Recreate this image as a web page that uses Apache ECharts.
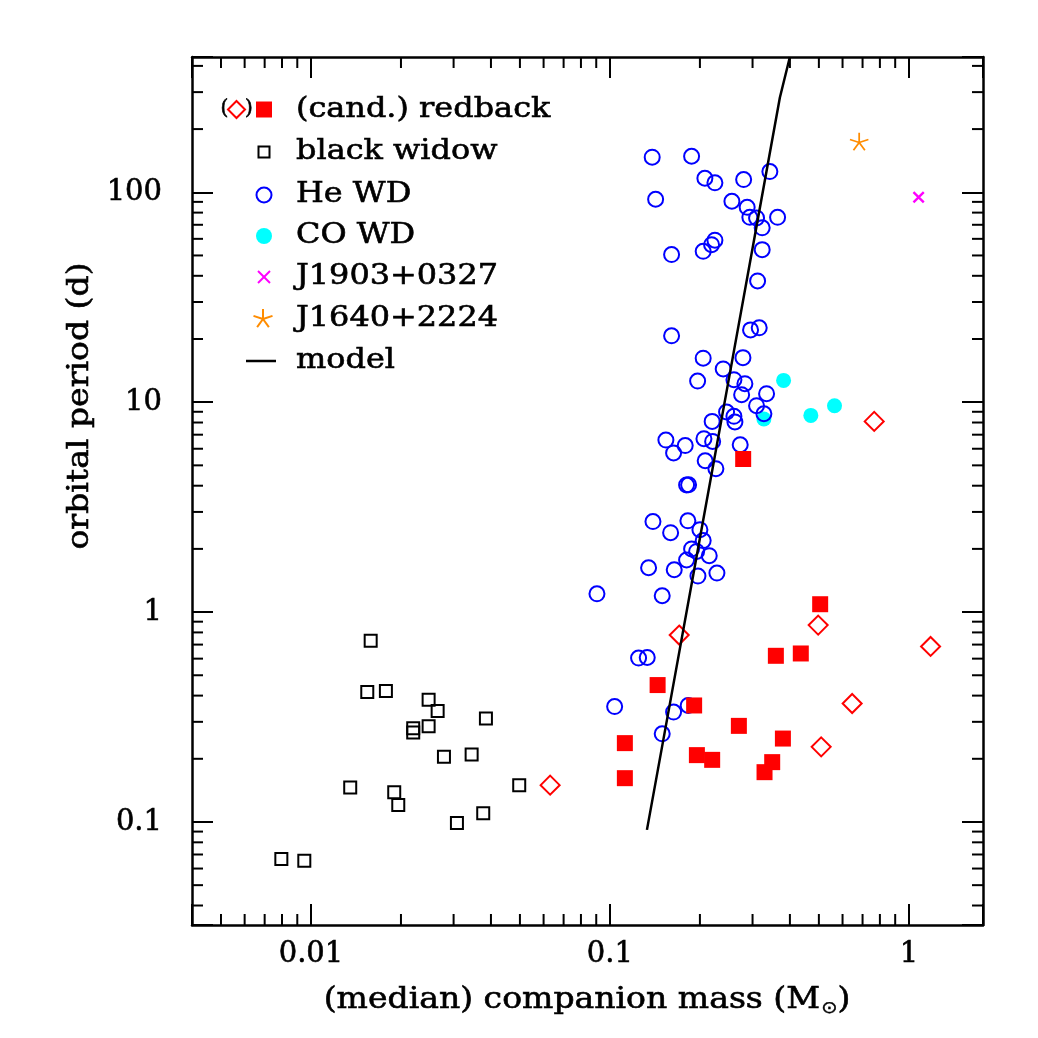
<!DOCTYPE html>
<html>
<head>
<meta charset="utf-8">
<script src="https://cdn.jsdelivr.net/npm/echarts@6/dist/echarts.min.js"></script>
<style>
html, body { margin: 0; padding: 0; background: #fff; }
#chart { width: 1038px; height: 1038px; }
</style>
</head>
<body>
<div id="chart"></div>
<script>
// axis ranges (log)
const X_MIN = 0.004, X_MAX = 1.77;
const Y_MIN = 0.0323, Y_MAX = 441;

const xTickValues = [0.01, 0.1, 1];
const xTickLabels = ['0.01', '0.1', '1'];
const yTickValues = [0.1, 1, 10, 100];
const yTickLabels = ['0.1', '1', '10', '100'];
const xMinorTicks = [0.005, 0.006, 0.007, 0.008, 0.009, 0.02, 0.03, 0.04, 0.05, 0.06, 0.07, 0.08, 0.09,
    0.2, 0.3, 0.4, 0.5, 0.6, 0.7, 0.8, 0.9];
const yMinorTicks = [0.04, 0.05, 0.06, 0.07, 0.08, 0.09, 0.2, 0.3, 0.4, 0.5, 0.6, 0.7, 0.8, 0.9,
    2, 3, 4, 5, 6, 7, 8, 9, 20, 30, 40, 50, 60, 70, 80, 90, 200, 300, 400];

// [companion mass, orbital period]
const heWd = [
    [0.1385, 146.9], [0.1876, 148.5], [0.2078, 116.6], [0.2245, 110.9], [0.2801, 115.0], [0.3428, 125.5],
    [0.1422, 92.6], [0.2559, 90.6], [0.2878, 84.8], [0.2938, 76.0], [0.3094, 75.5], [0.3638, 76.0],
    [0.3231, 67.7], [0.2245, 59.1], [0.2188, 56.3], [0.2051, 52.3], [0.1608, 50.5], [0.3231, 53.3],
    [0.3119, 37.8], [0.1608, 20.7], [0.2954, 22.1], [0.3158, 22.6], [0.2051, 16.2], [0.2786, 16.3],
    [0.2393, 14.4], [0.1965, 12.6], [0.2599, 12.8], [0.2828, 12.25], [0.2758, 10.86], [0.3342, 10.98],
    [0.3094, 9.62], [0.3274, 8.81], [0.2456, 8.98], [0.2599, 8.56], [0.2619, 8.05], [0.2198, 8.10],
    [0.1539, 6.60], [0.1786, 6.21], [0.1633, 5.73], [0.2063, 6.70], [0.2206, 6.50], [0.2728, 6.27],
    [0.2083, 5.26], [0.2262, 4.82], [0.1833, 4.04], [0.1805, 4.03], [0.1393, 2.70], [0.1596, 2.39],
    [0.1823, 2.72], [0.2000, 2.47], [0.2051, 2.19], [0.1876, 2.00], [0.1950, 1.945], [0.2149, 1.856],
    [0.1805, 1.77], [0.1347, 1.626], [0.1641, 1.591], [0.1970, 1.485], [0.2280, 1.534], [0.0905, 1.222],
    [0.1496, 1.196], [0.1247, 0.6036], [0.1333, 0.6076], [0.1037, 0.3548], [0.1633, 0.3338],
    [0.1827, 0.3588], [0.1496, 0.2630]
];
const coWd = [[0.381, 12.7], [0.3274, 8.32], [0.470, 8.65], [0.564, 9.62]];
const redback = [
    [0.2791, 5.36], [0.505, 1.09], [0.359, 0.619], [0.435, 0.635], [0.1444, 0.449], [0.1913, 0.359],
    [0.2700, 0.287], [0.1122, 0.2375], [0.379, 0.2497], [0.1954, 0.2082], [0.2198, 0.1977],
    [0.349, 0.1928], [0.329, 0.1727], [0.1122, 0.1617]
];
const candRedback = [
    [0.7657, 8.10], [0.4973, 0.867], [0.1705, 0.777], [1.182, 0.686], [0.6461, 0.3667],
    [0.5089, 0.228], [0.0631, 0.1498]
];
const blackWidow = [
    [0.01584, 0.7298], [0.01543, 0.4156], [0.01781, 0.4202], [0.02475, 0.3820], [0.02653, 0.3374],
    [0.03848, 0.3111], [0.02198, 0.2799], [0.02198, 0.2668], [0.02475, 0.2861], [0.02785, 0.2044],
    [0.03447, 0.2096], [0.01353, 0.1459], [0.01899, 0.1387], [0.01959, 0.1206], [0.03769, 0.1101],
    [0.03078, 0.0990], [0.04973, 0.1498], [0.00796, 0.0667], [0.00950, 0.0653]
];
const j1903 = [[1.078, 94.7]];
const j1640 = [[0.682, 173.9]];
const modelMass = [0.133, 0.1588, 0.2000, 0.2520, 0.3054, 0.3703, 0.3999];
const modelPeriod = [0.0917, 0.3674, 2.247, 13.75, 62.2, 282.8, 441];

const FONT = '"DejaVu Serif", "Liberation Serif", serif';
const WIDEN = 1.14;   // reference font is wider than DejaVu Serif

const crossPath = 'path://M0,1.4L1.4,0L10,8.6L8.6,10ZM8.6,0L10,1.4L1.4,10L0,8.6Z';
function starPath() {
    let s = 'path://';
    for (let k = 0; k < 5; k++) {
        const a = (90 + 72 * k) * Math.PI / 180;
        const dx = Math.cos(a), dy = -Math.sin(a);
        const nx = -dy, ny = dx, w = 0.9, L = 10;
        const p = [
            [10 + nx * w, 10 + ny * w], [10 + nx * w + dx * L, 10 + ny * w + dy * L],
            [10 - nx * w + dx * L, 10 - ny * w + dy * L], [10 - nx * w, 10 - ny * w]
        ];
        s += 'M' + p.map(q => q[0].toFixed(2) + ',' + q[1].toFixed(2)).join('L') + 'Z';
    }
    return s;
}

function labelFor(values, labels) {
    return function (v) {
        const i = values.findIndex(t => Math.abs(Math.log10(v) - Math.log10(t)) < 1e-6);
        return i >= 0 ? labels[i] : '';
    };
}

const axisLine = { show: true, onZero: false, lineStyle: { color: '#000', width: 2.5 } };
const axisTick = { show: true, inside: true, length: 21, lineStyle: { color: '#000', width: 2 } };

function minorTickSeries(vals, isX) {
    return {
        type: 'custom',
        silent: true,
        z: 5,
        data: vals.map(v => isX ? [v, Y_MIN] : [X_MIN, v]),
        renderItem: function (params, api) {
            const style = { stroke: '#000', lineWidth: 2 };
            if (isX) {
                const v = api.value(0);
                const b = api.coord([v, Y_MIN]), t = api.coord([v, Y_MAX]);
                return { type: 'group', children: [
                    { type: 'line', shape: { x1: b[0], y1: b[1], x2: b[0], y2: b[1] - 11 }, style: style },
                    { type: 'line', shape: { x1: t[0], y1: t[1], x2: t[0], y2: t[1] + 11 }, style: style }
                ] };
            }
            const v = api.value(1);
            const l = api.coord([X_MIN, v]), r = api.coord([X_MAX, v]);
            return { type: 'group', children: [
                { type: 'line', shape: { x1: l[0], y1: l[1], x2: l[0] + 11, y2: l[1] }, style: style },
                { type: 'line', shape: { x1: r[0], y1: r[1], x2: r[0] - 11, y2: r[1] }, style: style }
            ] };
        }
    };
}

function textEl(x, y, text, size, align, extra) {
    return Object.assign({
        type: 'text', x: x, y: y, scaleX: WIDEN,
        style: { text: text, font: size + 'px ' + FONT, fill: '#000',
            stroke: '#000', lineWidth: 0.6,
            align: align, verticalAlign: 'middle', textAlign: align, textVerticalAlign: 'middle' }
    }, extra || {});
}

// legend drawn by hand
const legendRows = ['(cand.) redback', 'black widow', 'He WD', 'CO WD', 'J1903+0327', 'J1640+2224', 'model'];
const legendY = [110, 152, 195, 236, 277, 319, 361];
const graphics = [];
legendRows.forEach((t, i) => graphics.push(textEl(296, legendY[i], t, 28, 'left')));
graphics.push(
    textEl(224.5, 109, '(', 20, 'center', { scaleX: 1 }),
    textEl(249, 109, ')', 20, 'center', { scaleX: 1 }),
    { type: 'polygon', shape: { points: [[236.5, 101], [245, 109.5], [236.5, 118], [228, 109.5]] }, style: { fill: 'none', stroke: '#ff0000', lineWidth: 2 } },
    { type: 'rect', shape: { x: 256, y: 101.5, width: 16, height: 16 }, style: { fill: '#ff0000' } },
    { type: 'rect', shape: { x: 258.5, y: 146.5, width: 11, height: 11 }, style: { fill: 'none', stroke: '#000', lineWidth: 2 } },
    { type: 'circle', shape: { cx: 264, cy: 195, r: 7.5 }, style: { fill: 'none', stroke: '#0000ff', lineWidth: 2 } },
    { type: 'circle', shape: { cx: 264, cy: 236, r: 8 }, style: { fill: '#00ffff' } },
    { type: 'line', shape: { x1: 258, y1: 271, x2: 270, y2: 283 }, style: { stroke: '#ff00ff', lineWidth: 2 } },
    { type: 'line', shape: { x1: 270, y1: 271, x2: 258, y2: 283 }, style: { stroke: '#ff00ff', lineWidth: 2 } },
    { type: 'line', shape: { x1: 246, y1: 361, x2: 276, y2: 361 }, style: { stroke: '#000', lineWidth: 2.5 } }
);
for (let k = 0; k < 5; k++) {
    const a = (90 + 72 * k) * Math.PI / 180;
    graphics.push({ type: 'line',
        shape: { x1: 263, y1: 319, x2: 263 + 10 * Math.cos(a), y2: 319 - 10 * Math.sin(a) },
        style: { stroke: '#ff8c00', lineWidth: 2 } });
}
// axis titles
graphics.push(textEl(80, 406, 'orbital period (d)', 29, 'center', { rotation: Math.PI / 2 }));
const xTitle = textEl(587, 1000, '(median) companion mass (M{sub|⊙})', 29, 'center');
xTitle.style.rich = { sub: { font: '17px "DejaVu Sans", sans-serif', fill: '#000', stroke: '#000', lineWidth: 0.4, padding: [18, 0, 0, 1] } };
graphics.push(xTitle);

const chart = echarts.init(document.getElementById('chart'));
const logX = { type: 'log', min: X_MIN, max: X_MAX, splitLine: { show: false }, axisLine: axisLine, axisTick: axisTick };
const logY = { type: 'log', min: Y_MIN, max: Y_MAX, splitLine: { show: false }, axisLine: axisLine, axisTick: axisTick };
const tickFont = { fontFamily: FONT, fontSize: 29, color: '#000', textBorderColor: '#000', textBorderWidth: 0.6 };

chart.setOption({
    animation: false,
    backgroundColor: '#fff',
    grid: { left: 192, right: 55, top: 57, bottom: 113 },
    xAxis: [
        Object.assign({}, logX, {
            position: 'bottom',
            axisLabel: Object.assign({ formatter: labelFor(xTickValues, xTickLabels), margin: 15 }, tickFont)
        }),
        Object.assign({}, logX, { position: 'top', axisLabel: { show: false } })
    ],
    yAxis: [
        Object.assign({}, logY, {
            position: 'left',
            axisLabel: Object.assign({ formatter: labelFor(yTickValues, yTickLabels), margin: 30 }, tickFont)
        }),
        Object.assign({}, logY, { position: 'right', axisLabel: { show: false } })
    ],
    graphic: graphics,
    series: [
        minorTickSeries(xMinorTicks, true),
        minorTickSeries(yMinorTicks, false),
        { name: 'black widow', type: 'scatter', data: blackWidow, symbol: 'rect', symbolSize: 12,
          itemStyle: { color: 'rgba(0,0,0,0)', borderColor: '#000', borderWidth: 2, opacity: 1 }, emphasis: { disabled: true } },
        { name: 'CO WD', type: 'scatter', data: coWd, symbol: 'circle', symbolSize: 15,
          itemStyle: { color: '#00ffff', opacity: 1 }, emphasis: { disabled: true } },
        { name: 'He WD', type: 'scatter', data: heWd, symbol: 'circle', symbolSize: 15,
          itemStyle: { color: 'rgba(0,0,0,0)', borderColor: '#0000ff', borderWidth: 2, opacity: 1 }, emphasis: { disabled: true } },
        { name: 'redback', type: 'scatter', data: redback, symbol: 'rect', symbolSize: 16,
          itemStyle: { color: '#ff0000', opacity: 1 }, emphasis: { disabled: true } },
        { name: 'cand. redback', type: 'scatter', data: candRedback, symbol: 'diamond', symbolSize: 19,
          itemStyle: { color: 'rgba(0,0,0,0)', borderColor: '#ff0000', borderWidth: 2, opacity: 1 }, emphasis: { disabled: true } },
        { name: 'J1903+0327', type: 'scatter', data: j1903, symbol: crossPath, symbolSize: 12, symbolKeepAspect: true,
          itemStyle: { color: '#ff00ff', opacity: 1 }, emphasis: { disabled: true } },
        { name: 'J1640+2224', type: 'scatter', data: j1640, symbol: starPath(), symbolSize: 19, symbolKeepAspect: true,
          itemStyle: { color: '#ff8c00', opacity: 1 }, emphasis: { disabled: true } },
        { name: 'model', type: 'line', data: modelMass.map((m, i) => [m, modelPeriod[i]]), symbol: 'none',
          lineStyle: { color: '#000', width: 2.5 }, z: 3, emphasis: { disabled: true } }
    ]
});
</script>
</body>
</html>
